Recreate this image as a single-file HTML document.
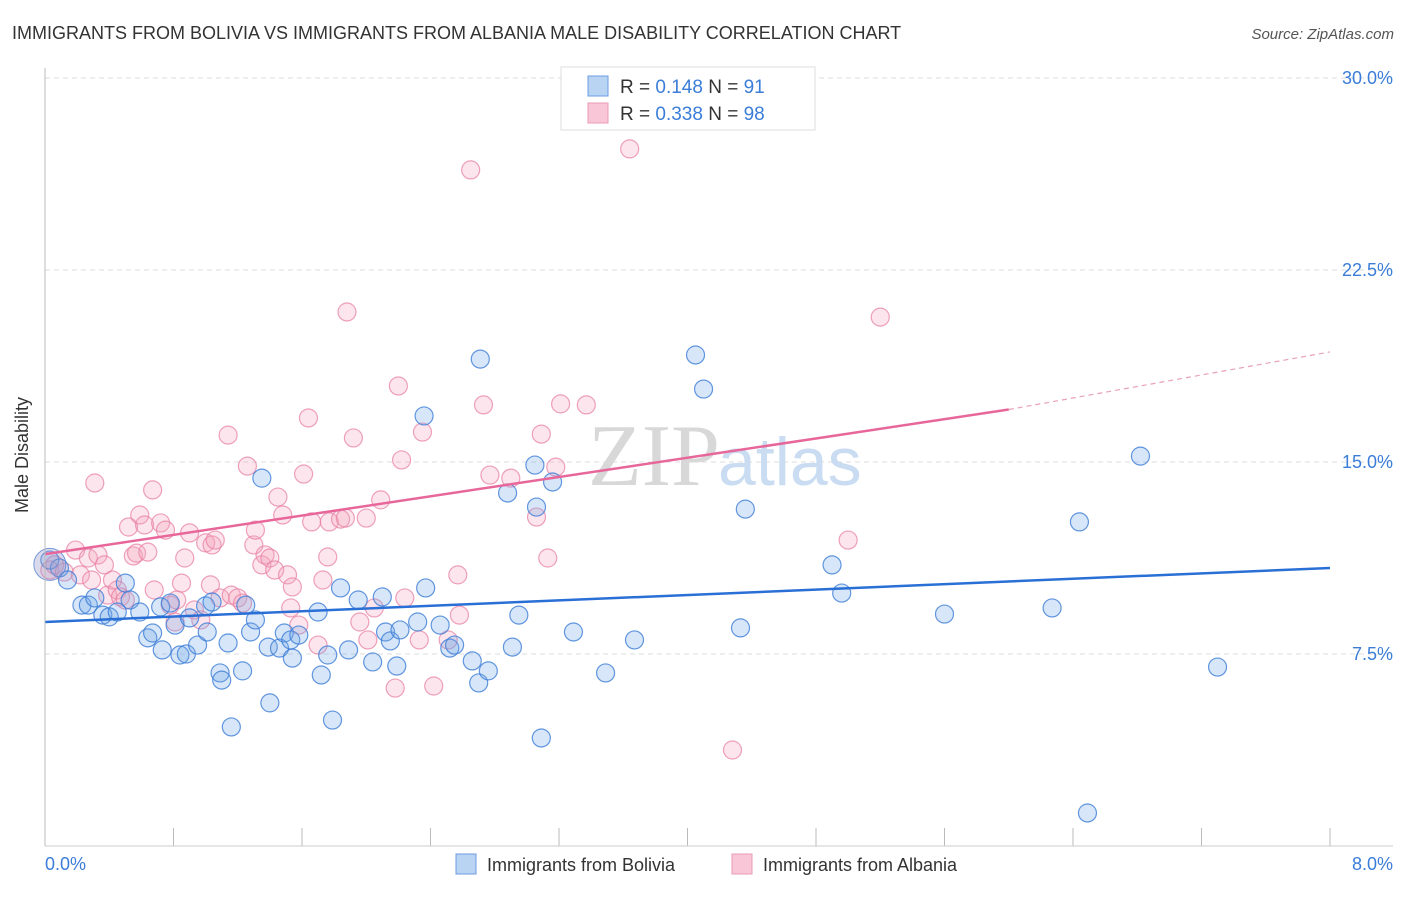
<!DOCTYPE html>
<html><head><meta charset="utf-8"><style>
body{margin:0;background:#fff;font-family:"Liberation Sans",sans-serif;}
</style></head><body>
<svg width="1406" height="892" xmlns="http://www.w3.org/2000/svg" font-family="Liberation Sans, sans-serif">
<text x="12" y="39" font-size="18" fill="#333">IMMIGRANTS FROM BOLIVIA VS IMMIGRANTS FROM ALBANIA MALE DISABILITY CORRELATION CHART</text>
<text x="1394" y="39" font-size="15" fill="#555" font-style="italic" text-anchor="end">Source: ZipAtlas.com</text>
<g id="grid"></g>
<text x="720" y="485" font-size="88" fill="#d8d8d8" text-anchor="end" font-family="Liberation Serif, serif">ZIP</text>
<text x="718" y="485" font-size="68" fill="#c9dcf2">atlas</text>
<g id="pts"></g>
<g id="lines"></g>
<line x1="45" y1="68" x2="45" y2="846" stroke="#bbb"/>
<line x1="45" y1="846" x2="1393" y2="846" stroke="#ccc"/>
<text x="28" y="455" font-size="18" fill="#333" transform="rotate(-90 28 455)" text-anchor="middle">Male Disability</text>
<text x="45" y="870" font-size="18" fill="#3b7dd8">0.0%</text>
<text x="1393" y="870" font-size="18" fill="#3b7dd8" text-anchor="end">8.0%</text>
<g>
<rect x="561" y="67" width="254" height="63" fill="#fff" stroke="#ddd"/>
<rect x="588" y="76" width="20" height="20" fill="#b9d3f3" stroke="#6b9be0"/>
<rect x="588" y="103" width="20" height="20" fill="#f8c6d6" stroke="#eb9ab5"/>
<text x="620" y="93" font-size="19" fill="#333">R = <tspan fill="#3b7dd8">0.148</tspan>   N = <tspan fill="#3b7dd8">91</tspan></text>
<text x="620" y="120" font-size="19" fill="#333">R = <tspan fill="#3b7dd8">0.338</tspan>   N = <tspan fill="#3b7dd8">98</tspan></text>
</g>
<g>
<rect x="456" y="854" width="20" height="20" fill="#b9d3f3" stroke="#6b9be0"/>
<text x="487" y="871" font-size="18" fill="#333">Immigrants from Bolivia</text>
<rect x="732" y="854" width="20" height="20" fill="#f8c6d6" stroke="#eb9ab5"/>
<text x="763" y="871" font-size="18" fill="#333">Immigrants from Albania</text>
</g>
</svg>
<script>
const yTicks=[7.5,15,22.5,30];
const yTickLabels=["7.5%","15.0%","22.5%","30.0%"];
const xTicks=[0,0.8,1.6,2.4,3.2,4,4.8,5.6,6.4,7.2,8];
const boliviaX=[.03,.09,.14,.23,.27,.31,.36,.40,.45,.50,.53,.59,.64,.67,.73,.72,.78,.81,.84,.88,.90,.95,1.00,1.01,1.04,1.09,1.10,1.14,1.16,1.23,1.25,1.28,1.31,1.35,1.40,1.39,1.46,1.49,1.53,1.54,1.58,1.70,1.72,1.76,1.79,1.84,1.89,1.95,2.04,2.10,2.12,2.15,2.19,2.21,2.32,2.36,2.37,2.46,2.52,2.55,2.66,2.70,2.71,2.76,2.88,2.91,2.95,3.05,3.06,3.09,3.16,3.29,3.49,3.67,4.05,4.10,4.33,4.36,4.90,4.96,5.60,6.27,6.44,6.49,6.82,7.30];
const boliviaY=[11.17,10.86,10.39,9.41,9.41,9.69,9.02,8.95,9.14,10.27,9.61,9.14,8.13,8.32,7.66,9.34,9.49,8.63,7.46,7.50,8.91,7.85,9.38,8.36,9.53,6.76,6.48,7.93,4.65,6.84,9.41,8.36,8.83,14.37,5.59,7.77,7.73,8.32,8.05,7.34,8.24,9.14,6.68,7.46,4.92,10.08,7.66,9.61,7.19,9.73,8.36,8.01,7.03,8.44,8.75,16.80,10.08,8.63,7.73,7.85,7.23,6.37,19.02,6.84,13.79,7.77,9.02,14.88,13.24,4.22,14.22,8.36,6.76,8.05,19.18,17.85,8.52,13.16,10.98,9.88,9.06,9.30,12.66,1.29,15.23,6.99];
const albaniaX=[.03,.06,.12,.19,.22,.27,.31,.29,.33,.37,.39,.42,.45,.47,.50,.52,.55,.57,.59,.62,.64,.67,.68,.72,.75,.78,.81,.82,.85,.87,.90,.93,.97,1.00,1.03,1.04,1.06,1.09,1.14,1.16,1.20,1.23,1.26,1.30,1.31,1.35,1.37,1.40,1.43,1.45,1.48,1.51,1.53,1.54,1.58,1.61,1.64,1.66,1.70,1.73,1.76,1.77,1.84,1.87,1.88,1.92,1.96,2.00,2.01,2.05,2.09,2.18,2.20,2.22,2.24,2.33,2.35,2.42,2.51,2.57,2.58,2.65,2.73,2.77,2.90,3.06,3.09,3.13,3.18,3.21,3.37,3.64,4.28,5.00,5.20];
const albaniaY=[10.78,10.98,10.70,11.56,10.59,11.25,14.18,10.39,11.37,10.98,9.80,10.39,10.00,9.73,9.61,12.46,11.33,11.44,12.93,12.54,11.48,13.91,10.00,12.62,12.34,9.41,8.75,9.61,10.27,11.25,12.23,9.22,8.83,11.84,10.20,11.76,11.95,9.69,16.05,9.80,9.69,9.49,14.84,11.76,12.34,10.98,11.37,11.25,10.78,13.63,12.93,10.59,9.30,10.12,8.63,14.53,16.72,12.66,7.85,10.39,11.29,12.66,12.77,12.81,20.86,15.94,8.75,12.81,8.05,9.30,13.52,6.17,17.97,15.08,9.69,8.05,16.17,6.25,8.05,10.59,9.02,26.41,17.23,14.49,14.37,12.85,16.09,11.25,14.80,17.27,17.23,27.23,3.75,11.95,20.66];
const boliviaTrend=[8.75,10.86];
const albaniaTrend=[11.4,17.05,19.3];
const albaniaSolidEnd=6.0;
const NS="http://www.w3.org/2000/svg";
const sx=v=>45+v/8*1285;
const sy=v=>846-v/7.5*192;
function mk(tag,attrs,parent){const e=document.createElementNS(NS,tag);for(const k in attrs)e.setAttribute(k,attrs[k]);parent.appendChild(e);return e;}
const grid=document.getElementById('grid');
yTicks.forEach((t,i)=>{
  const l=mk('line',{x1:45,x2:1393,y1:sy(t),y2:sy(t),stroke:'#ddd','stroke-dasharray':'5,4'},grid);
  
  
  const tx=mk('text',{x:1393,y:sy(t)+6,'font-size':18,fill:'#3b7dd8','text-anchor':'end'},grid);
  tx.textContent=yTickLabels[i];
  
  
});
xTicks.forEach(t=>{
  const l=mk('line',{x1:sx(t),x2:sx(t),y1:828,y2:846,stroke:'#bbb'},grid);
  
  
});
const pts=document.getElementById('pts');
function drawPts(X,Y,fill,stroke,name){
  X.forEach((x,i)=>{
    const c=mk('circle',{cx:sx(x),cy:sy(Y[i]),r:9,fill:fill,stroke:stroke,'stroke-width':1.2},pts);
    
    
  });
}
drawPts(albaniaX,albaniaY,'rgba(244,160,188,0.28)','rgba(232,130,165,0.75)','albania-point');
drawPts(boliviaX,boliviaY,'rgba(110,165,230,0.28)','rgba(60,125,215,0.8)','bolivia-point');
const big=mk('circle',{cx:sx(0.03),cy:sy(11.0),r:16,fill:'rgba(150,150,200,0.35)',stroke:'rgba(90,130,210,0.8)'},pts);


const lines=document.getElementById('lines');
const bl=mk('line',{x1:sx(0),y1:sy(boliviaTrend[0]),x2:sx(8),y2:sy(boliviaTrend[1]),stroke:'#2a6fd6','stroke-width':2.5},lines);


const al=mk('line',{x1:sx(0),y1:sy(albaniaTrend[0]),x2:sx(albaniaSolidEnd),y2:sy(albaniaTrend[1]),stroke:'#e8679a','stroke-width':2.5},lines);


const ad=mk('line',{x1:sx(albaniaSolidEnd),y1:sy(albaniaTrend[1]),x2:sx(8),y2:sy(albaniaTrend[2]),stroke:'#e8a0bb','stroke-width':1.2,'stroke-dasharray':'5,4'},lines);


</script>
</body></html>
